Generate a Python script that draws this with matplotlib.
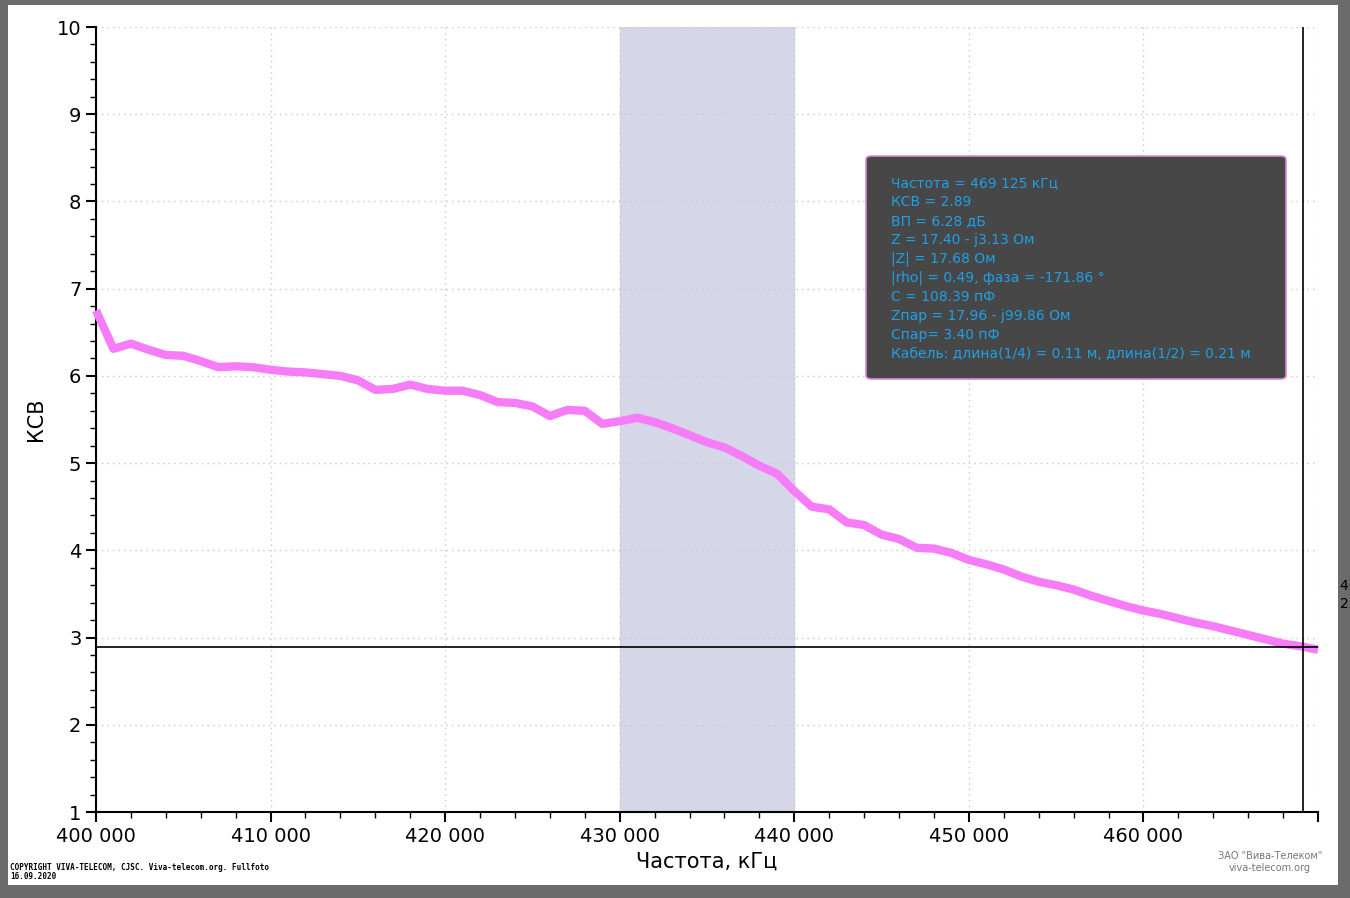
import matplotlib
matplotlib.use("Agg")
import matplotlib.pyplot as plt
from matplotlib.patches import FancyBboxPatch, Rectangle
from matplotlib.ticker import MultipleLocator, FuncFormatter

freq = list(range(400000, 471000, 1000))
swr = [6.75, 6.31, 6.37, 6.30, 6.24, 6.23, 6.17, 6.10, 6.11, 6.10,
       6.07, 6.05, 6.04, 6.02, 6.00, 5.95, 5.84, 5.85, 5.90, 5.85,
       5.83, 5.83, 5.78, 5.70, 5.69, 5.65, 5.54, 5.61, 5.60, 5.45,
       5.48, 5.52, 5.47, 5.40, 5.32, 5.24, 5.18, 5.08, 4.97, 4.88,
       4.68, 4.50, 4.47, 4.32, 4.29, 4.18, 4.13, 4.03, 4.02, 3.97,
       3.89, 3.84, 3.78, 3.70, 3.64, 3.60, 3.55, 3.48, 3.42, 3.36,
       3.31, 3.27, 3.22, 3.17, 3.13, 3.08, 3.03, 2.98, 2.93, 2.90, 2.86]
band = (430000, 440000)
cursor_f = 469125
cursor_swr = 2.89
info = ["Частота = 469 125 кГц", "КСВ = 2.89", "ВП = 6.28 дБ", "Z = 17.40 - j3.13 Ом",
        "|Z| = 17.68 Ом", "|rho| = 0.49, фаза = -171.86 °", "C = 108.39 пФ",
        "Zпар = 17.96 - j99.86 Ом", "Cпар= 3.40 пФ",
        "Кабель: длина(1/4) = 0.11 м, длина(1/2) = 0.21 м"]

W, H = 1350, 898
fig = plt.figure(figsize=(W/100, H/100), dpi=100, facecolor="#6b6b6b")
fig.add_artist(Rectangle((8/W, 1-885/H), (1338-8)/W, (885-5)/H, transform=fig.transFigure,
                         facecolor="white", edgecolor="none", zorder=0))
ax = fig.add_axes([96/W, 1-812/H, (1318-96)/W, (812-27)/H])
ax.set_xlim(400000, 470000)
ax.set_ylim(1, 10)
ax.axvspan(*band, color="#d6d6e9", zorder=0)
ax.grid(True, color="#c8c8c8", linestyle=(0, (1, 3)), linewidth=1)
ax.plot(freq, swr, color="#f77cf7", linewidth=6, solid_joinstyle="round",
        solid_capstyle="butt", zorder=3, clip_on=False)
ax.axhline(cursor_swr, color="black", linewidth=1.2, zorder=4)
ax.axvline(cursor_f, color="black", linewidth=1.2, zorder=4)
for s in ["top", "right"]:
    ax.spines[s].set_visible(False)
for s in ["left", "bottom"]:
    ax.spines[s].set_linewidth(1.5)
ax.xaxis.set_major_locator(MultipleLocator(10000))
ax.xaxis.set_minor_locator(MultipleLocator(2000))
ax.yaxis.set_major_locator(MultipleLocator(1))
ax.yaxis.set_minor_locator(MultipleLocator(0.2))
ax.xaxis.set_major_formatter(FuncFormatter(
    lambda v, p: "" if v >= 470000 else f"{int(v):,}".replace(",", " ")))
ax.tick_params(axis="both", which="major", direction="out", length=7, width=1.5, labelsize=14)
ax.tick_params(axis="both", which="minor", direction="out", length=4, width=1)
ax.set_xlabel("Частота, кГц", fontsize=15, labelpad=4)
ax.set_ylabel("КСВ", fontsize=15, labelpad=8)

box = FancyBboxPatch((866/W, 1-379/H), (1286-866)/W, (379-156)/H, transform=fig.transFigure,
                     boxstyle="round,pad=0,rounding_size=0.004", facecolor="#474747",
                     edgecolor="#d88ad8", linewidth=1.2, zorder=10)
fig.add_artist(box)
for i, line in enumerate(info):
    fig.text(891/W, 1-(183+19*i)/H, line, color="#1ea0e6", fontsize=10,
             va="center", ha="left", zorder=11)

fig.text(1340/W, 1-586/H, "469 125", fontsize=10, va="center", color="black")
fig.text(1340/W, 1-604/H, "2.89", fontsize=10, va="center", color="black")
fig.text(10/W, 1-872/H, "COPYRIGHT VIVA-TELECOM, CJSC. Viva-telecom.org. Fullfoto\n16.09.2020",
         fontsize=5.5, family="DejaVu Sans Mono", weight="bold", va="center", linespacing=1.1)
fig.text(1270/W, 1-856/H, 'ЗАО "Вива-Телеком"', fontsize=7, color="#777777", ha="center", va="center")
fig.text(1270/W, 1-868/H, "viva-telecom.org", fontsize=7, color="#777777", ha="center", va="center")
fig.savefig("out.png", dpi=100, facecolor=fig.get_facecolor())
